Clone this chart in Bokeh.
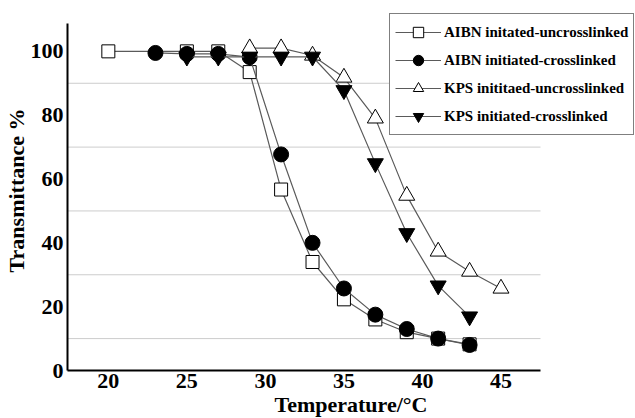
from bokeh.plotting import figure
from bokeh.models import Range1d, FixedTicker, Legend, LegendItem
from bokeh.embed import file_html
from bokeh.resources import INLINE

# Data
aibn_unc_t = [20, 25, 27, 29, 31, 33, 35, 37, 39, 41, 43]
aibn_unc_v = [100, 100, 100, 93.5, 56.7, 34, 22.3, 16, 12, 10, 8.2]

aibn_cl_t = [23, 25, 27, 29, 31, 33, 35, 37, 39, 41, 43]
aibn_cl_v = [99.5, 99.2, 99.2, 98.2, 67.7, 40, 25.7, 17.5, 13, 10, 8]

kps_unc_t = [29, 31, 33, 35, 37, 39, 41, 43, 45]
kps_unc_v = [101, 101, 98.7, 91.8, 79, 54.8, 37.3, 31, 25.7]

kps_cl_t = [25, 27, 29, 31, 33, 35, 37, 39, 41, 43]
kps_cl_v = [98.3, 98.3, 98.3, 98.3, 98.3, 87.8, 64.9, 43, 26.6, 16.9]

series_labels = ["AIBN initated-uncrosslinked", "AIBN initiated-crosslinked",
                 "KPS inititaed-uncrosslinked", "KPS initiated-crosslinked"]

x_ticks = [20, 25, 30, 35, 40, 45]
y_ticks = [0, 20, 40, 60, 80, 100]
grid_vals = [10, 30, 50, 70, 90]

# axis extents (visible axis lines) and full frame ranges
x_axis_lo, x_axis_hi = 17.4, 47.5
y_axis_lo, y_axis_hi = 0, 108.8
x_frame_hi = 53.5
y_frame_hi = 112.8

FONT = "Liberation Serif"

p = figure(frame_width=567, frame_height=360, output_backend="svg", toolbar_location=None,
           x_range=Range1d(x_axis_lo, x_frame_hi), y_range=Range1d(y_axis_lo, y_frame_hi),
           min_border_left=59, min_border_right=1, min_border_top=10, min_border_bottom=48)
p.outline_line_color = None
p.background_fill_color = "white"

for ax in (p.xaxis[0], p.yaxis[0]):
    ax.axis_line_width = 2
    ax.axis_line_color = "black"
    ax.major_tick_line_color = None
    ax.minor_tick_line_color = None
    ax.major_tick_out = 0
    ax.major_tick_in = 0
    ax.minor_tick_out = 0
    ax.major_label_text_font = FONT
    ax.major_label_text_font_style = "bold"
    ax.major_label_text_font_size = "22px"
    ax.major_label_text_color = "black"
    ax.major_label_text_line_height = 0.9
    ax.axis_label_text_font = FONT
    ax.axis_label_text_font_style = "bold"
    ax.axis_label_text_font_size = "22px"
    ax.axis_label_text_color = "black"
    ax.axis_label_text_line_height = 0.9

p.xaxis.bounds = (x_axis_lo, x_axis_hi)
p.yaxis.bounds = (y_axis_lo, y_axis_hi)
p.xaxis.ticker = FixedTicker(ticks=x_ticks)
p.yaxis.ticker = FixedTicker(ticks=y_ticks)
p.xaxis.axis_label = "Temperature/\u00b0C"
p.yaxis.axis_label = "Transmittance %"
p.xaxis.major_label_standoff = 3
p.yaxis.major_label_standoff = 4
p.xaxis.axis_label_standoff = 1
p.yaxis.axis_label_standoff = -1

p.xgrid.visible = False
p.ygrid.visible = False
p.segment(x0=[x_axis_lo] * len(grid_vals), y0=grid_vals,
          x1=[x_axis_hi] * len(grid_vals), y1=grid_vals,
          line_color="#999999", line_dash="1 1", line_width=1)

line_color = "#5a5a5a"
items = []

l1 = p.line(aibn_unc_t, aibn_unc_v, line_color=line_color, line_width=1.2)
s1 = p.scatter(aibn_unc_t, aibn_unc_v, marker="square", size=13,
               fill_color="white", line_color="black", line_width=1)
items.append(LegendItem(label=series_labels[0], renderers=[l1, s1]))

l2 = p.line(aibn_cl_t, aibn_cl_v, line_color=line_color, line_width=1.2)
s2 = p.scatter(aibn_cl_t, aibn_cl_v, marker="circle", size=15,
               fill_color="black", line_color="black")
items.append(LegendItem(label=series_labels[1], renderers=[l2, s2]))

l3 = p.line(kps_unc_t, kps_unc_v, line_color=line_color, line_width=1.2)
s3 = p.scatter(kps_unc_t, kps_unc_v, marker="triangle", size=16,
               fill_color="white", line_color="black", line_width=1)
items.append(LegendItem(label=series_labels[2], renderers=[l3, s3]))

l4 = p.line(kps_cl_t, kps_cl_v, line_color=line_color, line_width=1.2)
s4 = p.scatter(kps_cl_t, kps_cl_v, marker="inverted_triangle", size=16,
               fill_color="black", line_color="black")
items.append(LegendItem(label=series_labels[3], renderers=[l4, s4]))

legend = Legend(items=items, location=(322, 235))
legend.label_text_font = FONT
legend.label_text_font_style = "bold"
legend.label_text_font_size = "15px"
legend.label_text_color = "black"
legend.border_line_color = "black"
legend.border_line_width = 1
legend.background_fill_color = "white"
legend.background_fill_alpha = 1
legend.glyph_width = 46
legend.glyph_height = 26
legend.spacing = 2
legend.padding = 5
legend.margin = 0
legend.label_standoff = 3
p.add_layout(legend, "center")

open("out.html", "w").write(file_html(p, INLINE))
